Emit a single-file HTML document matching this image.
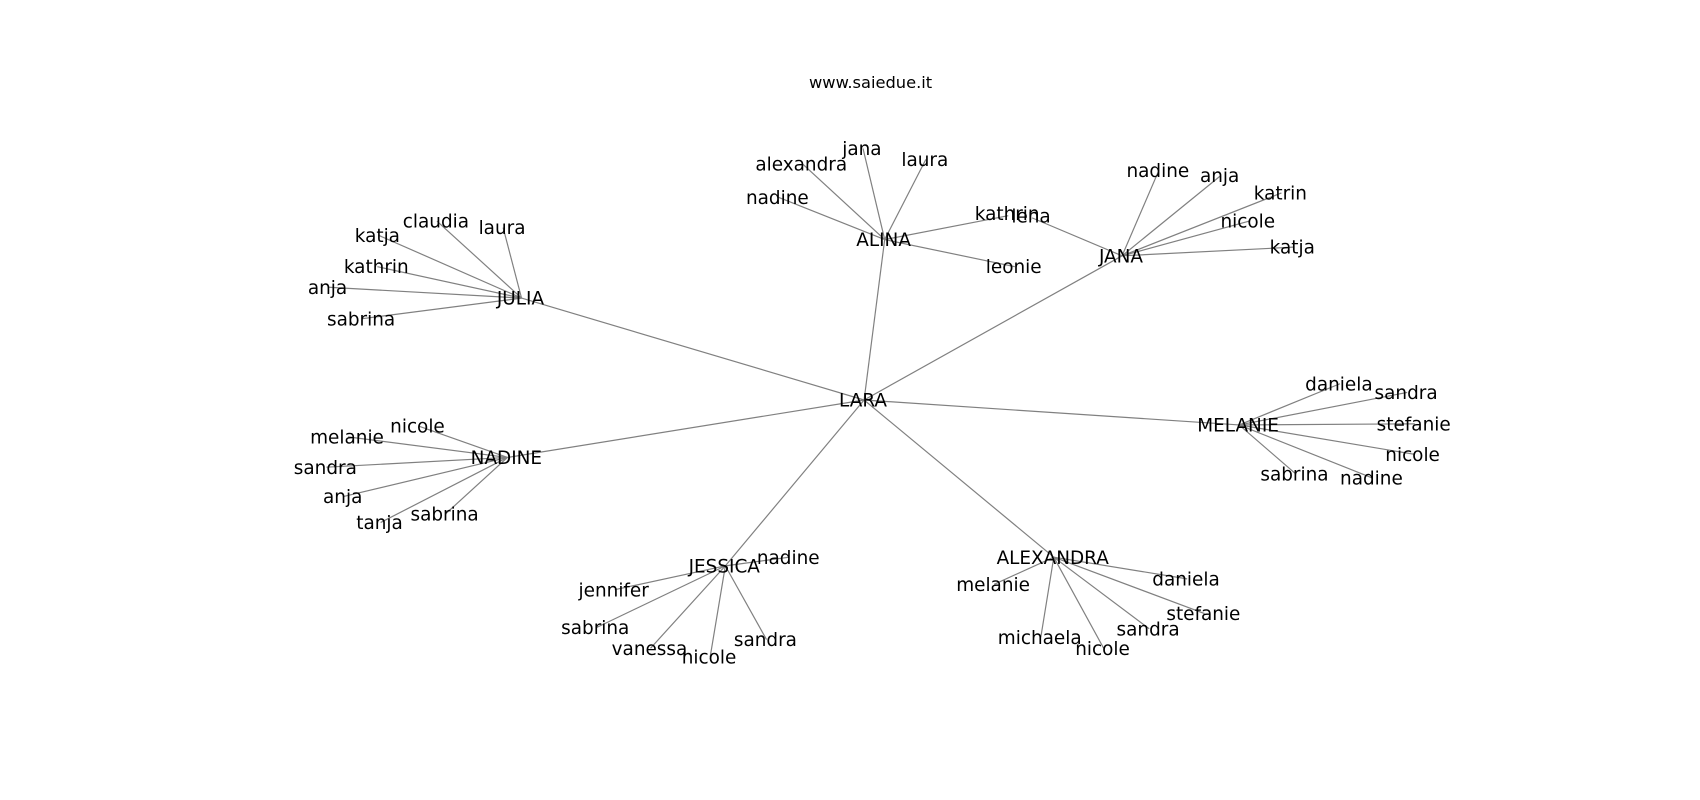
<!DOCTYPE html>
<html><head><meta charset="utf-8"><style>
html,body{margin:0;padding:0;background:#fff}
svg{display:block}
text{font-family:"DejaVu Sans","Liberation Sans",sans-serif;fill:#000;text-anchor:middle;dominant-baseline:central;font-size:17px}
line{stroke:#808080;stroke-width:1.1}
</style></head><body>
<svg width="1700" height="800" viewBox="0 0 1568 738" xmlns="http://www.w3.org/2000/svg">
<text x="803" y="76" style="font-size:15px">www.saiedue.it</text>
<g id="edges">
<line x1="797" y1="369" x2="481" y2="275"/>
<line x1="797" y1="369" x2="816" y2="221"/>
<line x1="797" y1="369" x2="1035" y2="236"/>
<line x1="797" y1="369" x2="1143" y2="392"/>
<line x1="797" y1="369" x2="972" y2="514"/>
<line x1="797" y1="369" x2="669" y2="522"/>
<line x1="797" y1="369" x2="468" y2="422"/>
<line x1="481" y1="275" x2="464" y2="210"/>
<line x1="481" y1="275" x2="403" y2="204"/>
<line x1="481" y1="275" x2="349" y2="217"/>
<line x1="481" y1="275" x2="348" y2="246"/>
<line x1="481" y1="275" x2="303" y2="265"/>
<line x1="481" y1="275" x2="334" y2="294"/>
<line x1="816" y1="221" x2="796" y2="137"/>
<line x1="816" y1="221" x2="854" y2="147"/>
<line x1="816" y1="221" x2="740" y2="151"/>
<line x1="816" y1="221" x2="718" y2="182"/>
<line x1="816" y1="221" x2="930" y2="199"/>
<line x1="816" y1="221" x2="936" y2="246"/>
<line x1="1035" y1="236" x2="952" y2="201"/>
<line x1="1035" y1="236" x2="1069" y2="157"/>
<line x1="1035" y1="236" x2="1126" y2="162"/>
<line x1="1035" y1="236" x2="1182" y2="178"/>
<line x1="1035" y1="236" x2="1152" y2="204"/>
<line x1="1035" y1="236" x2="1193" y2="228"/>
<line x1="1143" y1="392" x2="1236" y2="354"/>
<line x1="1143" y1="392" x2="1298" y2="362"/>
<line x1="1143" y1="392" x2="1305" y2="391"/>
<line x1="1143" y1="392" x2="1304" y2="419"/>
<line x1="1143" y1="392" x2="1266" y2="441"/>
<line x1="1143" y1="392" x2="1195" y2="437"/>
<line x1="972" y1="514" x2="917" y2="539"/>
<line x1="972" y1="514" x2="1095" y2="534"/>
<line x1="972" y1="514" x2="1111" y2="566"/>
<line x1="972" y1="514" x2="1060" y2="580"/>
<line x1="972" y1="514" x2="1018" y2="598"/>
<line x1="972" y1="514" x2="960" y2="588"/>
<line x1="669" y1="522" x2="728" y2="514"/>
<line x1="669" y1="522" x2="567" y2="544"/>
<line x1="669" y1="522" x2="550" y2="579"/>
<line x1="669" y1="522" x2="600" y2="598"/>
<line x1="669" y1="522" x2="655" y2="606"/>
<line x1="669" y1="522" x2="707" y2="590"/>
<line x1="468" y1="422" x2="386" y2="393"/>
<line x1="468" y1="422" x2="321" y2="403"/>
<line x1="468" y1="422" x2="301" y2="431"/>
<line x1="468" y1="422" x2="317" y2="458"/>
<line x1="468" y1="422" x2="351" y2="482"/>
<line x1="468" y1="422" x2="411" y2="474"/>
</g>
<g id="labels" transform="translate(-1,1)">
<text x="797" y="369">LARA</text>
<text x="481" y="275">JULIA</text>
<text x="464" y="210">laura</text>
<text x="403" y="204">claudia</text>
<text x="349" y="217">katja</text>
<text x="348" y="246">kathrin</text>
<text x="303" y="265">anja</text>
<text x="334" y="294">sabrina</text>
<text x="816" y="221">ALINA</text>
<text x="796" y="137">jana</text>
<text x="854" y="147">laura</text>
<text x="740" y="151">alexandra</text>
<text x="718" y="182">nadine</text>
<text x="930" y="197">kathrin</text>
<text x="936" y="246">leonie</text>
<text x="1035" y="236">JANA</text>
<text x="952" y="199">lena</text>
<text x="1069" y="157">nadine</text>
<text x="1126" y="162">anja</text>
<text x="1182" y="178">katrin</text>
<text x="1152" y="204">nicole</text>
<text x="1193" y="228">katja</text>
<text x="1143" y="392">MELANIE</text>
<text x="1236" y="354">daniela</text>
<text x="1298" y="362">sandra</text>
<text x="1305" y="391">stefanie</text>
<text x="1304" y="419">nicole</text>
<text x="1266" y="441">nadine</text>
<text x="1195" y="437">sabrina</text>
<text x="972" y="514">ALEXANDRA</text>
<text x="917" y="539">melanie</text>
<text x="1095" y="534">daniela</text>
<text x="1111" y="566">stefanie</text>
<text x="1060" y="580">sandra</text>
<text x="1018" y="598">nicole</text>
<text x="960" y="588">michaela</text>
<text x="669" y="522">JESSICA</text>
<text x="728" y="514">nadine</text>
<text x="567" y="544">jennifer</text>
<text x="550" y="579">sabrina</text>
<text x="600" y="598">vanessa</text>
<text x="655" y="606">nicole</text>
<text x="707" y="590">sandra</text>
<text x="468" y="422">NADINE</text>
<text x="386" y="393">nicole</text>
<text x="321" y="403">melanie</text>
<text x="301" y="431">sandra</text>
<text x="317" y="458">anja</text>
<text x="351" y="482">tanja</text>
<text x="411" y="474">sabrina</text>
</g>
</svg>
</body></html>
